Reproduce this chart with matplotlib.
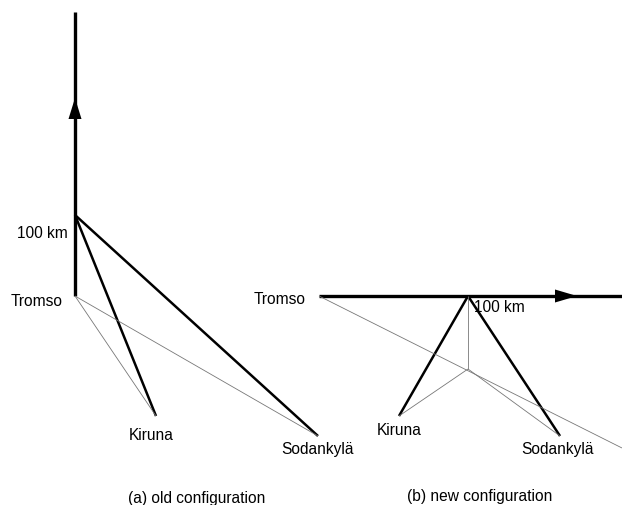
import matplotlib.pyplot as plt

plt.rcParams['font.family'] = ['Liberation Sans', 'DejaVu Sans']

# geometry of the two sketches (drawing units, y grows downward)
# (a) old configuration
a_tromso = (75, 297)
a_top = (75, 13)
a_100km = (75, 216)
a_kiruna = (156, 417)
a_sodankyla = (318, 437)
a_arrow_tip = (75, 99)

# (b) new configuration
b_tromso = (319, 297)
b_end = (622, 297)
b_100km = (468, 297)
b_foot = (468, 370)
b_kiruna = (399, 417)
b_sodankyla = (560, 437)
b_ray_end = (622, 449)
b_arrow_tip = (577, 297)

labels_a = [("100 km", 68, 233, 'right'), ("Tromso", 63, 301, 'right'),
            ("Kiruna", 151, 436, 'center'), ("Sodankylä", 318, 450, 'center')]
labels_b = [("Tromso", 306, 299, 'right'), ("100 km", 474, 308, 'left'),
            ("Kiruna", 399, 431, 'center'), ("Sodankylä", 557, 450, 'center')]
captions = [("(a) old configuration", 197, 499), ("(b) new configuration", 480, 497)]

THICK = 1.8
THIN = 0.6
GREY = '#777777'
FS = 11.2


def seg(ax, p, q, lw, color='black'):
    ax.plot([p[0], q[0]], [p[1], q[1]], color=color, lw=lw, solid_capstyle='butt')


def arrow_head(ax, tip, direction, length=22, half_width=6.5):
    x, y = tip
    dx, dy = direction
    bx, by = x - dx * length, y - dy * length
    px, py = -dy * half_width, dx * half_width
    ax.fill([x, bx + px, bx - px], [y, by + py, by - py], color='black', lw=0)


fig = plt.figure(figsize=(6.22, 5.06), dpi=100)
ax = fig.add_axes([0, 0, 1, 1])
ax.set_xlim(0, 622)
ax.set_ylim(506, 0)
ax.axis('off')

# panel (a)
seg(ax, a_tromso, a_top, THICK + 0.6)
arrow_head(ax, a_arrow_tip, (0, -1), length=21)
seg(ax, a_100km, a_kiruna, THICK)
seg(ax, a_100km, a_sodankyla, THICK)
seg(ax, a_tromso, a_kiruna, THIN, GREY)
seg(ax, a_tromso, a_sodankyla, THIN, GREY)

# panel (b)
seg(ax, b_tromso, b_end, THICK + 0.6)
arrow_head(ax, b_arrow_tip, (1, 0))
seg(ax, b_100km, b_kiruna, THICK)
seg(ax, b_100km, b_sodankyla, THICK)
seg(ax, b_100km, b_foot, THIN, GREY)
seg(ax, b_foot, b_kiruna, THIN, GREY)
seg(ax, b_foot, b_sodankyla, THIN, GREY)
seg(ax, b_tromso, b_ray_end, THIN, GREY)

for txt, x, y, ha in labels_a + labels_b:
    ax.text(x, y, txt, ha=ha, va='center', fontsize=FS)
for txt, x, y in captions:
    ax.text(x, y, txt, ha='center', va='center', fontsize=FS)

fig.savefig('out.png', dpi=100)
